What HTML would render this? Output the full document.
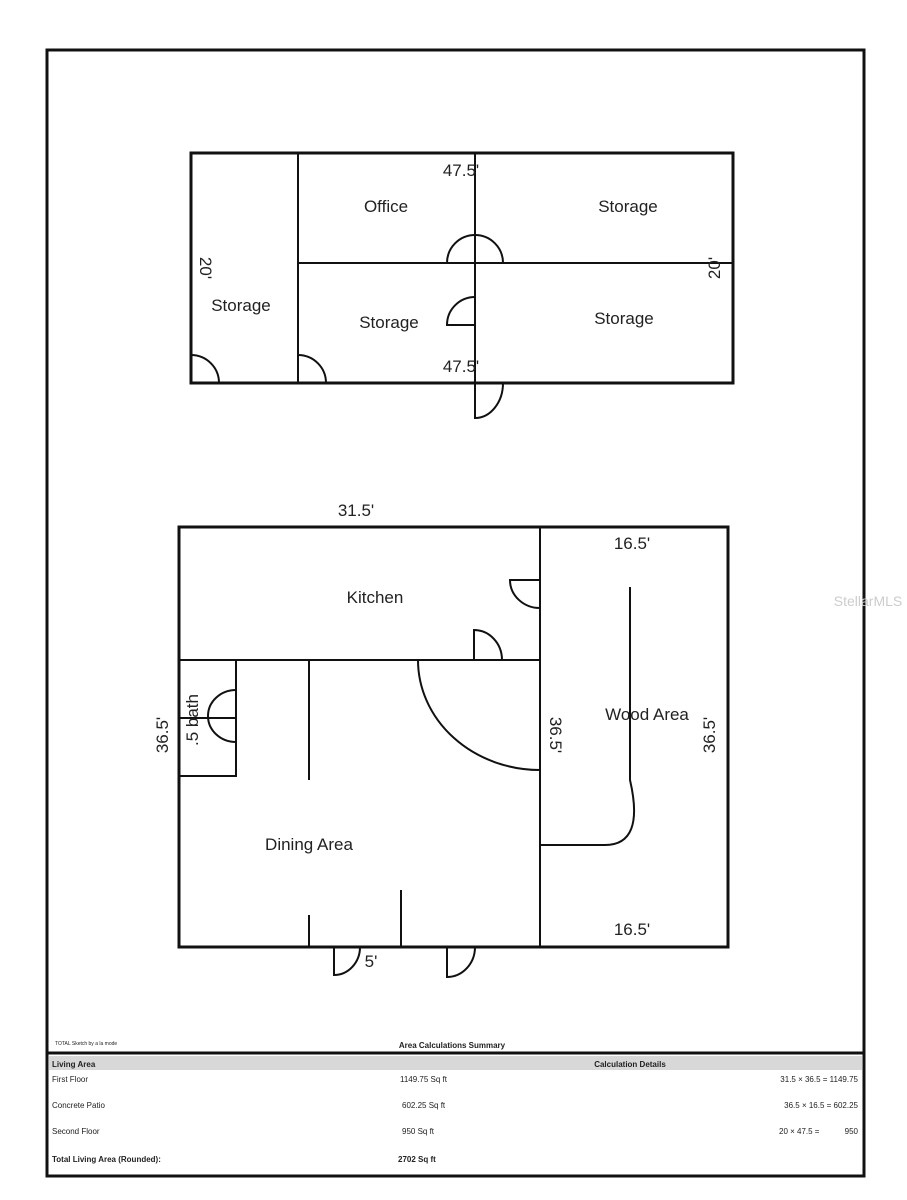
<!DOCTYPE html>
<html><head><style>
html,body{margin:0;padding:0;background:#fff;}
svg{display:block;}
text{font-family:"Liberation Sans",sans-serif;fill:#222;}
</style></head><body>
<svg width="907" height="1200" viewBox="0 0 907 1200" xmlns="http://www.w3.org/2000/svg">
<rect x="47" y="50" width="817" height="1126" fill="none" stroke="#111" stroke-width="3"/>
<g fill="none" stroke="#111" stroke-width="3">
<rect x="191" y="153" width="542" height="230"/>
<rect x="179" y="527" width="549" height="420"/>
</g>
<g fill="none" stroke="#111" stroke-width="2">
<line x1="298" y1="153" x2="298" y2="383"/>
<line x1="475" y1="153" x2="475" y2="383"/>
<line x1="298" y1="263" x2="733" y2="263"/>
<path d="M447 263 A28 28 0 0 1 503 263"/>
<path d="M475 297 A28 28 0 0 0 447 325 L475 325"/>
<path d="M191 355 A28 28 0 0 1 219 383"/>
<path d="M298 355 A28 28 0 0 1 326 383"/>
<path d="M475 383 L475 418 A28 35 0 0 0 503 383"/>
<line x1="540" y1="527" x2="540" y2="947"/>
<line x1="179" y1="660" x2="540" y2="660"/>
<path d="M179 776 L236 776 L236 660"/>
<line x1="309" y1="660" x2="309" y2="780"/>
<path d="M418 660 A122 110 0 0 0 540 770"/>
<path d="M540 580 L510 580 A30 28 0 0 0 540 608"/>
<path d="M474 660 L474 630 A28 30 0 0 1 502 660"/>
<path d="M236 690 A28 26 0 0 0 236 742"/>
<line x1="179" y1="718" x2="236" y2="718"/>
<path d="M630 587 L630 780 Q645 845 605 845 L540 845"/>
<line x1="309" y1="915" x2="309" y2="947"/>
<line x1="401" y1="890" x2="401" y2="947"/>
<path d="M334 947 L334 975 A26 28 0 0 0 360 947"/>
<path d="M447 947 L447 977 A28 30 0 0 0 475 947"/>
</g>
<g font-size="17" text-anchor="middle">
<text x="461" y="176">47.5'</text>
<text x="386" y="212">Office</text>
<text x="628" y="212">Storage</text>
<text x="241" y="311">Storage</text>
<text x="389" y="328">Storage</text>
<text x="624" y="324">Storage</text>
<text x="461" y="372">47.5'</text>
<text transform="translate(200,268) rotate(90)">20'</text>
<text transform="translate(720,268) rotate(-90)">20'</text>
<text x="356" y="516">31.5'</text>
<text x="375" y="603">Kitchen</text>
<text x="632" y="549">16.5'</text>
<text x="647" y="720">Wood Area</text>
<text transform="translate(168,735) rotate(-90)">36.5'</text>
<text transform="translate(198,720) rotate(-90)">.5 bath</text>
<text transform="translate(550,735) rotate(90)">36.5'</text>
<text transform="translate(715,735) rotate(-90)">36.5'</text>
<text x="309" y="850">Dining Area</text>
<text x="632" y="935">16.5'</text>
<text x="371" y="967">5'</text>
</g>
<text x="868" y="606" font-size="14" text-anchor="middle" fill="#ccc" style="fill:#ccc">StellarMLS</text>
<line x1="47" y1="1053" x2="864" y2="1053" stroke="#111" stroke-width="3"/>
<rect x="49" y="1056" width="813" height="14" fill="#d8d8d8"/>
<g font-size="8" font-weight="bold">
<text x="55" y="1045" font-size="5" font-weight="normal">TOTAL Sketch by a la mode</text>
<text x="452" y="1048" text-anchor="middle">Area Calculations Summary</text>
<text x="52" y="1067">Living Area</text>
<text x="630" y="1067" text-anchor="middle">Calculation Details</text>
<text x="52" y="1082" font-weight="normal">First Floor</text>
<text x="400" y="1082" font-weight="normal">1149.75 Sq ft</text>
<text x="858" y="1082" font-weight="normal" text-anchor="end">31.5 × 36.5 = 1149.75</text>
<text x="52" y="1108" font-weight="normal">Concrete Patio</text>
<text x="402" y="1108" font-weight="normal">602.25 Sq ft</text>
<text x="858" y="1108" font-weight="normal" text-anchor="end">36.5 × 16.5 = 602.25</text>
<text x="52" y="1134" font-weight="normal">Second Floor</text>
<text x="402" y="1134" font-weight="normal">950 Sq ft</text>
<text x="779" y="1134" font-weight="normal">20 × 47.5 =</text>
<text x="858" y="1134" font-weight="normal" text-anchor="end">950</text>
<text x="52" y="1162">Total Living Area (Rounded):</text>
<text x="398" y="1162">2702 Sq ft</text>
</g>
</svg>
</body></html>
